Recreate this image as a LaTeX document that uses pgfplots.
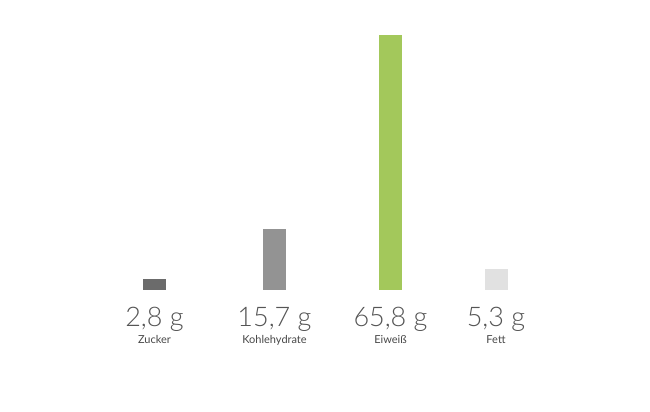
\documentclass[border=0pt]{standalone}
\usepackage{pgfplots}
\pgfplotsset{compat=1.18}
\usepackage{fontspec}
\setmainfont{Lato}[UprightFont=* Light]
\newfontfamily\catfont{Lato}
\definecolor{zucker}{HTML}{6B6B6B}
\definecolor{kohle}{HTML}{939393}
\definecolor{eiweiss}{HTML}{A3C85B}
\definecolor{fett}{HTML}{E1E1E1}
\definecolor{txt}{HTML}{555555}
\begin{document}
\begin{tikzpicture}
\begin{axis}[
    scale only axis,
    width=650pt, height=411pt,
    xmin=0, xmax=650,
    ymin=-31.23, ymax=74.84,
    axis lines=none,
    clip=false,
    ybar, bar shift=0pt, bar width=23,
]
% x = Balkenmitte in Pixeln, y = Gramm
\addplot[fill=zucker, draw=none] coordinates {(154.5,2.8)};
\addplot[fill=kohle, draw=none] coordinates {(274.5,15.7)};
\addplot[fill=eiweiss, draw=none] coordinates {(390.5,65.8)};
\addplot[fill=fett, draw=none] coordinates {(496,5.3)};
\path (rel axis cs:0,0) rectangle (rel axis cs:1,1);
\begin{scope}[every node/.style={anchor=base, text=txt, inner sep=0pt}]
\node[font=\fontsize{27}{30}\selectfont] at (axis cs:154.5,-9.3) {2,8 g};
\node[font=\fontsize{27}{30}\selectfont] at (axis cs:274.5,-9.3) {15,7 g};
\node[font=\fontsize{27}{30}\selectfont] at (axis cs:390.5,-9.3) {65,8 g};
\node[font=\fontsize{27}{30}\selectfont] at (axis cs:496,-9.3) {5,3 g};
\node[font=\catfont\fontsize{11}{13}\selectfont, text=black!72] at (axis cs:154.5,-13.9) {Zucker};
\node[font=\catfont\fontsize{11}{13}\selectfont, text=black!72] at (axis cs:274.5,-13.9) {Kohlehydrate};
\node[font=\catfont\fontsize{11}{13}\selectfont, text=black!72] at (axis cs:390.5,-13.9) {Eiweiß};
\node[font=\catfont\fontsize{11}{13}\selectfont, text=black!72] at (axis cs:496,-13.9) {Fett};
\end{scope}
\end{axis}
\end{tikzpicture}
\end{document}
